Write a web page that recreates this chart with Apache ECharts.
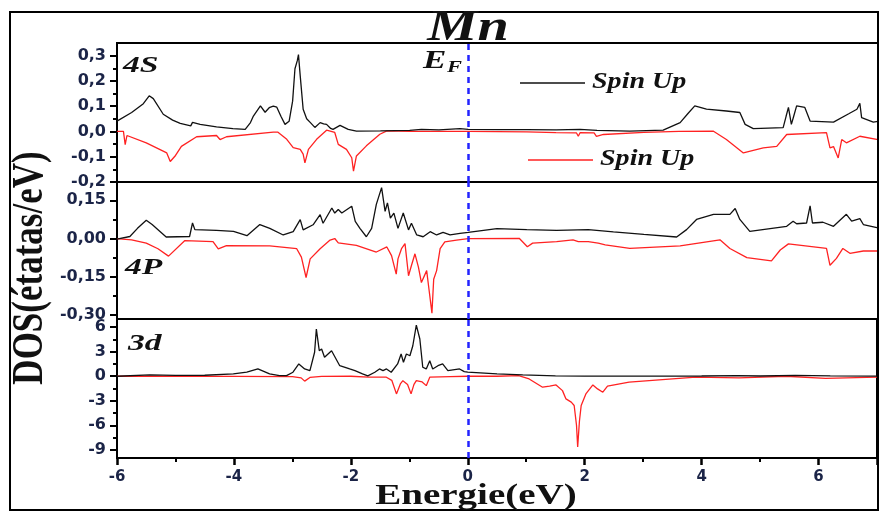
<!DOCTYPE html>
<html>
<head>
<meta charset="utf-8">
<title>Mn DOS</title>
<script src="https://cdn.jsdelivr.net/npm/echarts@6/dist/echarts.min.js"></script>
<style>
  html, body { margin: 0; padding: 0; background: #fff; }
  #chart { width: 880px; height: 514px; }
</style>
</head>
<body>
<div id="chart"></div>
<script>
// Energy range (eV) and axis ticks
const energyTicks = [-6, -4, -2, 0, 2, 4, 6];
const ticks4s = [-0.2, -0.1, 0, 0.1, 0.2, 0.3];
const minor4s = [-0.15, -0.05, 0.05, 0.15, 0.25];
const ticks4p = [-0.3, -0.15, 0, 0.15];
const minor4p = [-0.225, -0.075, 0.075];
const ticks3d = [-9, -6, -3, 0, 3, 6];
const minor3d = [-7.5, -4.5, -1.5, 1.5, 4.5];

// 4S partial DOS [E, DOS]
const dos4sUp = [[-6.00,0.041],[-5.75,0.075],[-5.55,0.11],[-5.45,0.141],[-5.38,0.13],[-5.21,0.068],[-5.05,0.045],[-4.92,0.032],[-4.74,0.022],[-4.71,0.036],[-4.58,0.028],[-4.30,0.018],[-4.02,0.011],[-3.81,0.008],[-3.72,0.035],[-3.67,0.061],[-3.55,0.101],[-3.47,0.076],[-3.40,0.094],[-3.33,0.1],[-3.27,0.096],[-3.20,0.06],[-3.13,0.028],[-3.06,0.040],[-3.00,0.12],[-2.96,0.248],[-2.92,0.28],[-2.90,0.304],[-2.87,0.22],[-2.82,0.088],[-2.76,0.05],[-2.70,0.036],[-2.62,0.016],[-2.53,0.035],[-2.47,0.03],[-2.42,0.028],[-2.35,0.012],[-2.31,0.008],[-2.19,0.024],[-2.05,0.008],[-1.91,0.001],[-1.5,0.002],[-1.0,0.004],[-0.8,0.008],[-0.5,0.006],[-0.14,0.011],[0,0.008],[0.5,0.007],[1.0,0.007],[1.5,0.006],[1.91,0.008],[2.2,0.004],[2.76,0.001],[3.33,0.005],[3.62,0.035],[3.75,0.07],[3.87,0.101],[4.07,0.088],[4.41,0.081],[4.64,0.075],[4.73,0.028],[4.87,0.011],[5.38,0.015],[5.43,0.06],[5.47,0.095],[5.52,0.028],[5.56,0.06],[5.61,0.101],[5.75,0.095],[5.84,0.041],[6.24,0.037],[6.5,0.07],[6.64,0.088],[6.69,0.111],[6.72,0.055],[6.92,0.037],[7.0,0.04]];
const dos4sDown = [[-6.00,0],[-5.89,0],[-5.86,-0.052],[-5.83,-0.016],[-5.5,-0.045],[-5.15,-0.085],[-5.09,-0.119],[-5.00,-0.095],[-4.90,-0.059],[-4.64,-0.021],[-4.30,-0.016],[-4.24,-0.032],[-4.13,-0.021],[-3.33,-0.003],[-3.25,-0.003],[-3.10,-0.031],[-2.99,-0.064],[-2.87,-0.071],[-2.82,-0.09],[-2.79,-0.124],[-2.73,-0.071],[-2.59,-0.031],[-2.42,0.005],[-2.28,-0.004],[-2.22,-0.051],[-2.08,-0.071],[-1.99,-0.104],[-1.96,-0.157],[-1.91,-0.097],[-1.74,-0.057],[-1.51,-0.011],[-1.39,0.002],[-1.0,0.0],[-0.5,0.0],[0,0.0],[1.0,-0.002],[1.5,-0.005],[1.85,-0.006],[1.88,-0.019],[1.91,-0.005],[2.15,-0.006],[2.19,-0.019],[2.31,-0.012],[3.0,-0.004],[3.6,0.0],[4.19,0.001],[4.41,-0.032],[4.70,-0.085],[5.04,-0.065],[5.27,-0.059],[5.44,-0.012],[6.12,-0.005],[6.18,-0.065],[6.24,-0.06],[6.32,-0.105],[6.38,-0.032],[6.46,-0.045],[6.69,-0.019],[7.0,-0.032]];

// 4P partial DOS [E, DOS]
const dos4pUp = [[-6.00,-0.002],[-5.78,0.008],[-5.65,0.04],[-5.50,0.072],[-5.40,0.055],[-5.16,0.006],[-4.76,0.008],[-4.71,0.061],[-4.67,0.035],[-4.30,0.032],[-4.01,0.028],[-3.78,0.011],[-3.56,0.055],[-3.39,0.04],[-3.16,0.014],[-2.99,0.027],[-2.87,0.074],[-2.82,0.034],[-2.65,0.054],[-2.53,0.094],[-2.48,0.06],[-2.33,0.12],[-2.28,0.1],[-2.22,0.114],[-2.16,0.1],[-1.99,0.127],[-1.93,0.067],[-1.85,0.04],[-1.74,0.007],[-1.65,0.04],[-1.57,0.134],[-1.48,0.2],[-1.42,0.107],[-1.38,0.14],[-1.33,0.08],[-1.27,0.1],[-1.20,0.04],[-1.11,0.1],[-1.02,0.034],[-0.97,0.06],[-0.88,0.014],[-0.77,0.007],[-0.65,0.027],[-0.54,0.014],[-0.43,0.024],[-0.31,0.014],[-0.14,0.02],[0,0.024],[0.49,0.039],[1.0,0.035],[1.51,0.032],[2.05,0.035],[2.48,0.026],[3.0,0.016],[3.56,0.006],[3.73,0.035],[3.90,0.075],[4.19,0.095],[4.47,0.095],[4.56,0.118],[4.64,0.075],[4.81,0.028],[5.44,0.048],[5.55,0.068],[5.61,0.058],[5.78,0.061],[5.84,0.128],[5.88,0.061],[6.06,0.064],[6.24,0.048],[6.46,0.095],[6.55,0.068],[6.69,0.078],[6.75,0.055],[7.0,0.042]];
const dos4pDown = [[-6.00,0],[-5.75,-0.005],[-5.50,-0.018],[-5.30,-0.04],[-5.12,-0.069],[-4.84,-0.008],[-4.36,-0.012],[-4.27,-0.041],[-4.13,-0.028],[-3.39,-0.029],[-2.93,-0.04],[-2.85,-0.073],[-2.77,-0.153],[-2.70,-0.08],[-2.53,-0.04],[-2.36,-0.006],[-2.28,0.0],[-2.22,-0.017],[-1.91,-0.027],[-1.57,-0.053],[-1.39,-0.033],[-1.31,-0.067],[-1.23,-0.14],[-1.20,-0.08],[-1.14,-0.04],[-1.08,-0.02],[-1.02,-0.146],[-0.97,-0.106],[-0.91,-0.06],[-0.85,-0.113],[-0.80,-0.173],[-0.71,-0.126],[-0.67,-0.2],[-0.62,-0.293],[-0.59,-0.16],[-0.54,-0.126],[-0.48,-0.04],[-0.40,-0.013],[-0.20,-0.006],[0,0],[0.87,0.001],[1.01,-0.032],[1.10,-0.018],[1.51,-0.012],[1.79,-0.005],[1.88,-0.012],[2.05,-0.012],[2.22,-0.018],[2.34,-0.025],[2.76,-0.039],[3.62,-0.029],[4.30,-0.005],[4.47,-0.039],[4.76,-0.075],[5.18,-0.088],[5.33,-0.045],[5.47,-0.021],[6.12,-0.039],[6.18,-0.105],[6.29,-0.078],[6.40,-0.039],[6.52,-0.058],[6.75,-0.049],[7.0,-0.049]];

// 3d partial DOS [E, DOS]
const dos3dUp = [[-6,0],[-5.44,0.16],[-5.0,0.1],[-4.5,0.12],[-4.01,0.28],[-3.78,0.49],[-3.59,0.89],[-3.39,0.28],[-3.22,0.07],[-3.10,0.07],[-2.99,0.49],[-2.89,1.5],[-2.79,0.89],[-2.70,0.68],[-2.62,2.93],[-2.59,5.77],[-2.54,3.12],[-2.50,3.33],[-2.45,2.32],[-2.33,3.12],[-2.19,1.29],[-2.02,0.89],[-1.93,0.68],[-1.80,0.3],[-1.71,0.05],[-1.59,0.49],[-1.51,0.89],[-1.45,0.68],[-1.39,0.89],[-1.31,0.49],[-1.20,1.5],[-1.14,2.72],[-1.10,1.71],[-1.05,2.72],[-0.99,2.51],[-0.94,3.73],[-0.88,6.26],[-0.82,4.55],[-0.77,1.1],[-0.71,0.89],[-0.65,1.9],[-0.60,0.89],[-0.51,1.29],[-0.43,1.5],[-0.34,0.68],[-0.14,0.89],[-0.06,0.56],[0,0.5],[0.5,0.3],[0.94,0.16],[1.5,0.05],[2,0.02],[3,0.02],[4,0.03],[4.6,0.08],[5,0.03],[5.6,0.1],[6.2,0.05],[7,0.02]];
const dos3dDown = [[-6,0],[-4,-0.02],[-3.0,-0.05],[-2.85,-0.2],[-2.79,-0.6],[-2.70,-0.15],[-2.5,-0.02],[-2.0,0.0],[-1.7,-0.12],[-1.4,-0.1],[-1.30,-0.5],[-1.22,-2.16],[-1.15,-0.9],[-1.11,-0.54],[-1.03,-1.0],[-0.97,-2.16],[-0.92,-1.0],[-0.88,-0.54],[-0.78,-0.7],[-0.71,-1.15],[-0.65,-0.12],[-0.3,-0.05],[0,0],[0.5,0.0],[0.87,0.07],[1.05,-0.33],[1.28,-1.34],[1.40,-1.2],[1.51,-1.06],[1.62,-1.76],[1.68,-2.77],[1.77,-3.17],[1.82,-3.58],[1.86,-6.0],[1.88,-8.66],[1.91,-5.5],[1.94,-3.58],[2.02,-2.16],[2.14,-1.06],[2.22,-1.55],[2.31,-1.95],[2.39,-1.22],[2.76,-0.73],[3.33,-0.41],[3.90,-0.12],[4.64,-0.2],[5.44,0.0],[6.12,-0.25],[7,-0.1]];

const TICK_COLOR = '#1b2447';
const SERIF = '"Liberation Serif", "Times New Roman", serif';

const chart = echarts.init(document.getElementById('chart'), null, { renderer: 'canvas' });

const gridBox = (top, height) => ({
  left: 117, width: 761, top: top, height: height,
  show: true, borderColor: '#000', borderWidth: 2, backgroundColor: 'transparent'
});

const comma = (digits) => (v) => {
  const s = Math.abs(v) < 1e-9 ? (0).toFixed(digits) : v.toFixed(digits);
  return s.replace('.', ',');
};

const yMain = (gi, min, max, ticks, fmt) => ({
  gridIndex: gi, type: 'value', min: min, max: max, position: 'left',
  axisLine: { show: true, onZero: false, lineStyle: { color: '#000', width: 2 } },
  axisTick: { show: true, customValues: ticks, length: 7, inside: false, lineStyle: { color: '#000', width: 2 } },
  axisLabel: {
    customValues: ticks, formatter: fmt, margin: 11, color: TICK_COLOR,
    fontFamily: '"DejaVu Sans", sans-serif', fontWeight: 'bold', fontSize: 16
  },
  splitLine: { show: false }
});

const yMinor = (gi, min, max, vals) => ({
  gridIndex: gi, type: 'value', min: min, max: max, position: 'left', offset: 0,
  axisLine: { show: false, onZero: false },
  axisTick: { show: true, customValues: vals, length: 4, inside: false, lineStyle: { color: '#000', width: 2 } },
  axisLabel: { show: false },
  splitLine: { show: false }
});

const xHidden = (gi) => ({
  gridIndex: gi, type: 'value', min: -6, max: 7, interval: 2,
  axisLine: { show: false, onZero: false }, axisTick: { show: false }, axisLabel: { show: false }, splitLine: { show: false }
});

const fermiLine = {
  silent: true, symbol: ['none', 'none'], label: { show: false },
  lineStyle: { color: '#2323ff', type: [6, 5], width: 2.5 },
  data: [{ xAxis: 0 }]
};

const upLine = (name, gi, data) => ({
  name: name, type: 'line', xAxisIndex: gi, yAxisIndex: gi * 2, data: data,
  showSymbol: false, symbol: 'none', lineStyle: { color: '#111', width: 1.3 },
  animation: false, z: 3, markLine: fermiLine
});
const downLine = (name, gi, data) => ({
  name: name, type: 'line', xAxisIndex: gi, yAxisIndex: gi * 2, data: data,
  showSymbol: false, symbol: 'none', lineStyle: { color: '#ff2222', width: 1.3 },
  animation: false, z: 2
});

const option = {
  animation: false,
  backgroundColor: '#fff',
  grid: [gridBox(43, 139), gridBox(182, 137), gridBox(319, 139)],
  xAxis: [
    xHidden(0),
    xHidden(1),
    {
      gridIndex: 2, type: 'value', min: -6, max: 7, interval: 2,
      axisLine: { show: true, onZero: false, lineStyle: { color: '#000', width: 2 } },
      axisTick: { show: true, length: 7, inside: false, lineStyle: { color: '#000', width: 2.5 } },
      minorTick: { show: true, splitNumber: 2, length: 4, lineStyle: { color: '#000', width: 2 } },
      axisLabel: {
        margin: 12, color: TICK_COLOR, fontFamily: '"DejaVu Sans", sans-serif',
        fontWeight: 'bold', fontSize: 15,
        formatter: (v) => energyTicks.includes(v) ? String(v) : ''
      },
      splitLine: { show: false }
    }
  ],
  yAxis: [
    yMain(0, -0.2, 0.35, ticks4s, comma(1)), yMinor(0, -0.2, 0.35, minor4s),
    yMain(1, -0.316, 0.222, ticks4p, comma(2)), yMinor(1, -0.316, 0.222, minor4p),
    yMain(2, -10, 7, ticks3d, (v) => String(v)), yMinor(2, -10, 7, minor3d)
  ],
  series: [
    downLine('4S Spin Down', 0, dos4sDown), upLine('4S Spin Up', 0, dos4sUp),
    downLine('4P Spin Down', 1, dos4pDown), upLine('4P Spin Up', 1, dos4pUp),
    downLine('3d Spin Down', 2, dos3dDown), upLine('3d Spin Up', 2, dos3dUp)
  ],
  graphic: [
    // outer frame
    { type: 'rect', shape: { x: 10, y: 12, width: 868, height: 498 }, style: { fill: 'none', stroke: '#000', lineWidth: 2 }, z: 90 },
    // title
    { type: 'text', x: 468, y: 29, scaleX: 1.28, z: 100,
      style: { text: 'Mn', font: 'italic bold 44px ' + SERIF, fill: '#111', textAlign: 'center', textVerticalAlign: 'middle' } },
    // axis titles
    { type: 'text', x: 476, y: 496, scaleX: 1.3, z: 100,
      style: { text: 'Energie(eV)', font: 'bold 30px ' + SERIF, fill: '#111', textAlign: 'center', textVerticalAlign: 'middle' } },
    { type: 'text', x: 31, y: 268, rotation: Math.PI / 2, scaleY: 1.25, z: 100,
      style: { text: 'DOS(étatas/eV)', font: 'bold 35px ' + SERIF, fill: '#111', textAlign: 'center', textVerticalAlign: 'middle' } },
    // orbital tags
    { type: 'text', x: 123, y: 66, scaleX: 1.4, z: 100,
      style: { text: '4S', font: 'italic bold 24px ' + SERIF, fill: '#111', textAlign: 'left', textVerticalAlign: 'middle' } },
    { type: 'text', x: 125, y: 268, scaleX: 1.4, z: 100,
      style: { text: '4P', font: 'italic bold 24px ' + SERIF, fill: '#111', textAlign: 'left', textVerticalAlign: 'middle' } },
    { type: 'text', x: 128, y: 344, scaleX: 1.4, z: 100,
      style: { text: '3d', font: 'italic bold 24px ' + SERIF, fill: '#111', textAlign: 'left', textVerticalAlign: 'middle' } },
    // Fermi level tag
    { type: 'text', x: 423, y: 62, scaleX: 1.4, z: 100,
      style: { text: 'E', font: 'italic bold 25px ' + SERIF, fill: '#111', textAlign: 'left', textVerticalAlign: 'middle' } },
    { type: 'text', x: 447, y: 68, scaleX: 1.4, z: 100,
      style: { text: 'F', font: 'italic bold 16px ' + SERIF, fill: '#111', textAlign: 'left', textVerticalAlign: 'middle' } },
    // key
    { type: 'line', shape: { x1: 520, y1: 83, x2: 585, y2: 83 }, style: { stroke: '#111', lineWidth: 1.3 }, z: 100 },
    { type: 'text', x: 592, y: 82, scaleX: 1.22, z: 100,
      style: { text: 'Spin Up', font: 'italic bold 23px ' + SERIF, fill: '#111', textAlign: 'left', textVerticalAlign: 'middle' } },
    { type: 'line', shape: { x1: 528, y1: 160, x2: 593, y2: 160 }, style: { stroke: '#ff2222', lineWidth: 1.3 }, z: 100 },
    { type: 'text', x: 600, y: 159, scaleX: 1.22, z: 100,
      style: { text: 'Spin Up', font: 'italic bold 23px ' + SERIF, fill: '#111', textAlign: 'left', textVerticalAlign: 'middle' } }
  ]
};

chart.setOption(option);
</script>
</body>
</html>
